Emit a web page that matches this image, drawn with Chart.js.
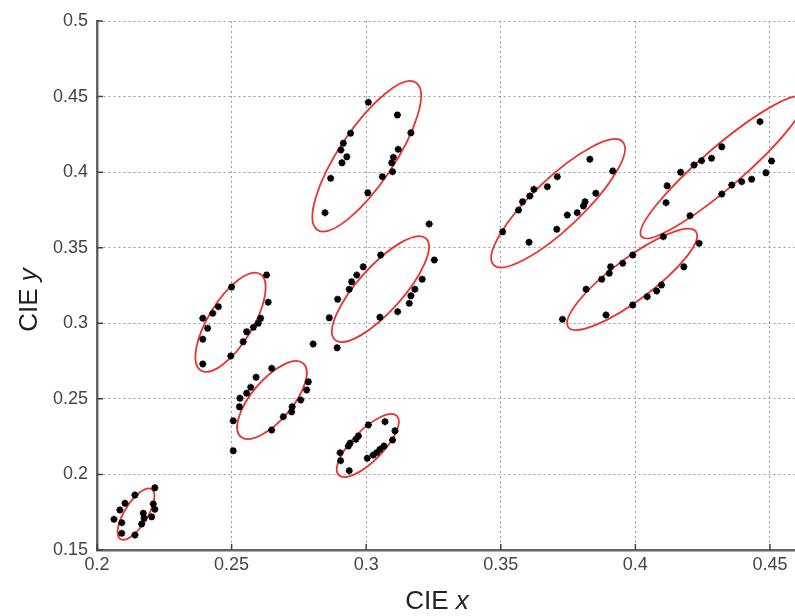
<!DOCTYPE html>
<html>
<head>
<meta charset="utf-8">
<script src="https://cdn.jsdelivr.net/npm/chart.js@4"></script>
<style>
  body { margin: 0; background: #fff; }
  #wrap { width: 795px; height: 616px; position: relative; }
</style>
</head>
<body>
<div id="wrap"><canvas id="cie-chart"></canvas></div>
<script>
// Measured chromaticity points (CIE x, CIE y)
const cieX = [
    // cluster near 0.215
    0.2215, 0.2209, 0.2215, 0.2203, 0.2172, 0.2175, 0.2166, 0.2141, 0.2092, 0.2092, 0.2063, 0.2085, 0.2104, 0.2141,
    // cluster near 0.25 / 0.30
    0.2630, 0.2636, 0.2500, 0.2451, 0.2430, 0.2393, 0.2411, 0.2393, 0.2608, 0.2599, 0.2581, 0.2556, 0.2543, 0.2497, 0.2393,
    // cluster near 0.265 / 0.25
    0.2649, 0.2591, 0.2571, 0.2556, 0.2531, 0.2529, 0.2506, 0.2506, 0.2785, 0.2779, 0.2757, 0.2725, 0.2723, 0.2692, 0.2649,
    // cluster near 0.30 / 0.22
    0.3070, 0.3107, 0.3098, 0.3066, 0.3051, 0.3039, 0.3026, 0.3004, 0.3008, 0.2971, 0.2962, 0.2940, 0.2934, 0.2903, 0.2905, 0.2937,
    // cluster near 0.30 / 0.41
    0.3008, 0.3116, 0.3166, 0.3119, 0.3101, 0.3095, 0.3098, 0.3060, 0.3006, 0.2942, 0.2915, 0.2906, 0.2928, 0.2910, 0.2868, 0.2847,
    // cluster near 0.305 / 0.32
    0.3234, 0.3253, 0.3208, 0.3181, 0.3166, 0.3160, 0.3117, 0.3051, 0.3054, 0.2989, 0.2965, 0.2946, 0.2937, 0.2894, 0.2863, 0.2803, 0.2892,
    // cluster near 0.37 / 0.38
    0.3831, 0.3916, 0.3853, 0.3813, 0.3807, 0.3784, 0.3747, 0.3708, 0.3710, 0.3673, 0.3623, 0.3608, 0.3581, 0.3566, 0.3507, 0.3605,
    // cluster near 0.40 / 0.33
    0.4237, 0.4180, 0.4097, 0.4079, 0.4044, 0.3990, 0.3891, 0.3729, 0.4104, 0.3990, 0.3953, 0.3908, 0.3903, 0.3875, 0.3817,
    // cluster near 0.43 / 0.40
    0.4463, 0.4506, 0.4485, 0.4432, 0.4395, 0.4358, 0.4321, 0.4203, 0.4321, 0.4283, 0.4246, 0.4218, 0.4168, 0.4118, 0.4114
];
const cieY = [
    0.1912, 0.1804, 0.1769, 0.1720, 0.1743, 0.1710, 0.1672, 0.1599, 0.1610, 0.1681, 0.1703, 0.1765, 0.1809, 0.1864,
    0.3320, 0.3140, 0.3240, 0.3110, 0.3066, 0.3033, 0.2967, 0.2894, 0.3033, 0.3000, 0.2973, 0.2944, 0.2878, 0.2784, 0.2731,
    0.2702, 0.2643, 0.2576, 0.2537, 0.2504, 0.2448, 0.2355, 0.2157, 0.2613, 0.2559, 0.2492, 0.2448, 0.2415, 0.2382, 0.2294,
    0.2349, 0.2289, 0.2228, 0.2188, 0.2166, 0.2144, 0.2128, 0.2107, 0.2327, 0.2254, 0.2232, 0.2206, 0.2188, 0.2144, 0.2091, 0.2025,
    0.4462, 0.4378, 0.4261, 0.4151, 0.4098, 0.4062, 0.4003, 0.3970, 0.3864, 0.4257, 0.4191, 0.4147, 0.4102, 0.4062, 0.3959, 0.3732,
    0.3657, 0.3419, 0.3291, 0.3225, 0.3182, 0.3132, 0.3077, 0.3040, 0.3452, 0.3374, 0.3319, 0.3275, 0.3225, 0.3159, 0.3037, 0.2863, 0.2838,
    0.4085, 0.4008, 0.3860, 0.3804, 0.3776, 0.3732, 0.3716, 0.3622, 0.3970, 0.3904, 0.3886, 0.3842, 0.3804, 0.3749, 0.3606, 0.3536,
    0.3529, 0.3374, 0.3253, 0.3214, 0.3176, 0.3121, 0.3055, 0.3026, 0.3573, 0.3452, 0.3397, 0.3374, 0.3331, 0.3291, 0.3225,
    0.4334, 0.4074, 0.3996, 0.3953, 0.3937, 0.3915, 0.3855, 0.3712, 0.4168, 0.4092, 0.4076, 0.4047, 0.3999, 0.3910, 0.3798
];

// Confidence ellipses: centre, tip of the long axis, short/long axis ratio
const ellCx   = [0.2145, 0.2496, 0.2650, 0.3006, 0.3002, 0.3053, 0.3713, 0.3988, 0.4323];
const ellCy   = [0.1738, 0.3007, 0.2492, 0.2191, 0.4105, 0.3226, 0.3794, 0.3290, 0.4032];
const ellTipX = [0.2203, 0.2606, 0.2766, 0.3114, 0.3185, 0.3222, 0.3953, 0.4225, 0.4623];
const ellTipY = [0.1903, 0.3326, 0.2735, 0.2387, 0.4592, 0.3562, 0.4201, 0.3606, 0.4491];
const ellRatio = [0.39, 0.39, 0.42, 0.37, 0.31, 0.33, 0.28, 0.26, 0.19];

// Axis ticks
const xTicks = [0.2, 0.25, 0.3, 0.35, 0.4, 0.45];
const yTicks = [0.15, 0.2, 0.25, 0.3, 0.35, 0.4, 0.45, 0.5];

const points = cieX.map((x, i) => ({ x: x, y: cieY[i] }));

// Draw the red ellipses through the chart scales
const ellipsePlugin = {
    id: 'ellipses',
    beforeDatasetsDraw(chart) {
        const { ctx, chartArea, scales } = chart;
        ctx.save();
        ctx.beginPath();
        ctx.rect(chartArea.left, chartArea.top, chartArea.right - chartArea.left, chartArea.bottom - chartArea.top);
        ctx.clip();
        ctx.strokeStyle = '#e8342c';
        ctx.lineWidth = 1.8;
        ellCx.forEach((cx, i) => {
            const px = scales.x.getPixelForValue(cx);
            const py = scales.y.getPixelForValue(ellCy[i]);
            const tx = scales.x.getPixelForValue(ellTipX[i]);
            const ty = scales.y.getPixelForValue(ellTipY[i]);
            const a = Math.hypot(tx - px, ty - py);
            const angle = Math.atan2(ty - py, tx - px);
            ctx.beginPath();
            ctx.ellipse(px, py, a, a * ellRatio[i], angle, 0, Math.PI * 2);
            ctx.stroke();
        });
        ctx.restore();
    }
};

// Small inward tick marks on both axes
const innerTicksPlugin = {
    id: 'innerTicks',
    afterDraw(chart) {
        const { ctx, chartArea, scales } = chart;
        ctx.save();
        ctx.strokeStyle = '#444';
        ctx.lineWidth = 1.5;
        ctx.beginPath();
        xTicks.forEach(v => {
            const px = scales.x.getPixelForValue(v);
            ctx.moveTo(px, chartArea.bottom);
            ctx.lineTo(px, chartArea.bottom - 6);
        });
        yTicks.forEach(v => {
            const py = scales.y.getPixelForValue(v);
            ctx.moveTo(chartArea.left, py);
            ctx.lineTo(chartArea.left + 6, py);
        });
        ctx.stroke();
        ctx.restore();
    }
};

// Axis titles with an italic variable letter
const titlePlugin = {
    id: 'axisTitles',
    afterDraw(chart) {
        const { ctx } = chart;
        const upright = '26px "Liberation Sans", Arial, sans-serif';
        const italic = 'italic 26px "Liberation Sans", Arial, sans-serif';

        function drawTitle(letter) {
            ctx.font = upright;
            const w1 = ctx.measureText('CIE ').width;
            ctx.font = italic;
            const w2 = ctx.measureText(letter).width;
            const start = -(w1 + w2) / 2;
            ctx.font = upright;
            ctx.fillText('CIE ', start, 0);
            ctx.font = italic;
            ctx.fillText(letter, start + w1, 0);
        }

        ctx.save();
        ctx.fillStyle = '#222';
        ctx.textBaseline = 'middle';
        ctx.textAlign = 'left';
        ctx.translate(437, 602);
        drawTitle('x');
        ctx.restore();

        ctx.save();
        ctx.fillStyle = '#222';
        ctx.textBaseline = 'middle';
        ctx.textAlign = 'left';
        ctx.translate(30, 300);
        ctx.rotate(-Math.PI / 2);
        drawTitle('y');
        ctx.restore();
    }
};

const tickFont = { family: '"Liberation Sans", Arial, sans-serif', size: 18 };

new Chart(document.getElementById('cie-chart'), {
    type: 'scatter',
    data: {
        datasets: [{
            data: points,
            pointStyle: 'star',
            pointRadius: 3.5,
            pointBorderWidth: 2,
            pointBorderColor: '#000',
            pointBackgroundColor: '#000'
        }]
    },
    options: {
        responsive: true,
        maintainAspectRatio: false,
        animation: false,
        layout: { autoPadding: false, padding: { top: 21, right: 0, left: 0, bottom: 0 } },
        plugins: {
            legend: { display: false },
            tooltip: { enabled: false }
        },
        scales: {
            x: {
                type: 'linear',
                min: 0.2,
                max: 0.4593,
                afterBuildTicks: (scale) => { scale.ticks = xTicks.map(v => ({ value: v })); },
                afterFit: (scale) => {
                    scale.height = 66;
                    scale.paddingLeft = 0;
                    scale.paddingRight = 0;
                },
                ticks: {
                    font: tickFont,
                    color: '#444',
                    padding: 4,
                    maxRotation: 0,
                    callback: (v) => String(v)
                },
                grid: { color: '#9a9a9a', lineWidth: 1, drawTicks: false },
                border: { display: true, color: '#666', width: 2.5, dash: [2, 3] }
            },
            y: {
                type: 'linear',
                min: 0.15,
                max: 0.5,
                afterBuildTicks: (scale) => { scale.ticks = yTicks.map(v => ({ value: v })); },
                afterFit: (scale) => { scale.width = 97; },
                ticks: {
                    font: tickFont,
                    color: '#444',
                    padding: 9,
                    callback: (v) => String(v)
                },
                grid: { color: '#9a9a9a', lineWidth: 1, drawTicks: false },
                border: { display: true, color: '#666', width: 2.5, dash: [2, 3] }
            }
        }
    },
    plugins: [ellipsePlugin, innerTicksPlugin, titlePlugin]
});
</script>
</body>
</html>
